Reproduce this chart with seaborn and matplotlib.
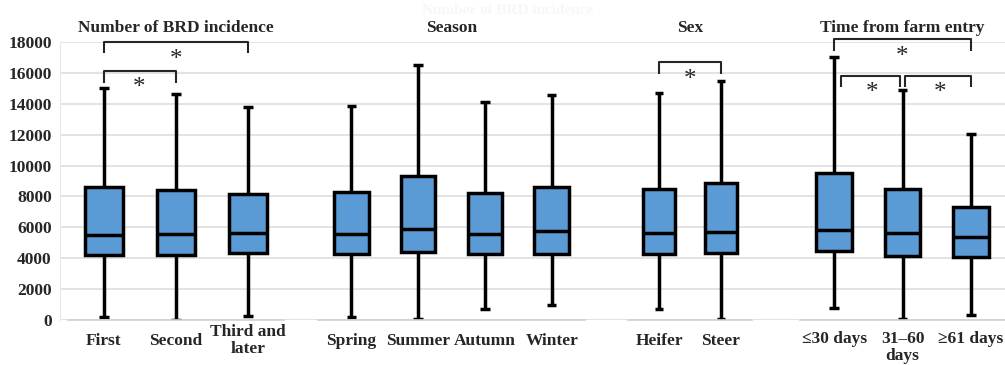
import numpy as np
import pandas as pd
import seaborn as sns
import matplotlib
matplotlib.use("Agg")
import matplotlib.pyplot as plt

# five-number summaries: min, q1, median, q3, max
brd_labels = ["First", "Second", "Third and\nlater"]
brd_stats = [[215, 4210, 5505, 8630, 15050],
             [0, 4190, 5570, 8420, 14640],
             [260, 4320, 5615, 8160, 13800]]

season_labels = ["Spring", "Summer", "Autumn", "Winter"]
season_stats = [[215, 4275, 5550, 8290, 13840],
                [40, 4425, 5870, 9325, 16540],
                [710, 4250, 5550, 8200, 14140],
                [950, 4275, 5765, 8630, 14590]]

sex_labels = ["Heifer", "Steer"]
sex_stats = [[710, 4250, 5615, 8460, 14680],
             [40, 4320, 5700, 8850, 15500]]

entry_labels = ["\u226430 days", "31\u201360\ndays", "\u226561 days"]
entry_stats = [[780, 4450, 5830, 9540, 17010],
               [65, 4145, 5615, 8500, 14900],
               [325, 4100, 5355, 7340, 12065]]

panel_titles = ["Number of BRD incidence", "Season", "Sex", "Time from farm entry"]

# significant pairs (category indices) per panel
brd_pairs = [(0, 2), (0, 1)]
sex_pairs = [(0, 1)]
entry_pairs = [(0, 2), (0, 1), (1, 2)]

sns.set_style("white")
plt.rcParams["font.family"] = ["Liberation Serif", "DejaVu Serif"]
plt.rcParams["font.weight"] = "bold"

W, H = 1005, 365
fig = plt.figure(figsize=(W / 100, H / 100), dpi=100)

y0_px, y1_px = 320, 42  # pixel rows of 0 and 18000
bottom = (H - y0_px) / H
height = (y0_px - y1_px) / H
fs = 12.5

# background axes: grid + y ticks
bg = fig.add_axes([60 / W, bottom, 1 - 60 / W, height])
bg.set_ylim(0, 18000)
bg.set_xlim(0, 1)
bg.set_yticks(np.arange(0, 18001, 2000))
bg.set_xticks([])
bg.grid(axis="y", color="#dedede", linewidth=1.2)
bg.tick_params(axis="y", length=0, pad=6, labelsize=fs)
for lab in bg.get_yticklabels():
    lab.set_fontweight("bold")
for s in ["top", "right", "bottom"]:
    bg.spines[s].set_visible(False)
bg.spines["left"].set_color("#e8e8e8")

panels = [
    (brd_labels, brd_stats, 68, 284),
    (season_labels, season_stats, 318, 585),
    (sex_labels, sex_stats, 628, 752),
    (entry_labels, entry_stats, 800, 1005),
]

box_w = 0.52
axes = []
for i, (labels, stats, xl, xr) in enumerate(panels):
    ax = fig.add_axes([xl / W, bottom, (xr - xl) / W, height])
    ax.patch.set_alpha(0)
    df = pd.DataFrame({
        "group": np.repeat(labels, 5),
        "value": np.concatenate([np.array(s, float) for s in stats]),
    })
    sns.boxplot(data=df, x="group", y="value", order=labels, ax=ax,
                whis=(0, 100), width=box_w, color="#5b9bd5", saturation=1,
                linecolor="black", linewidth=2.5, showfliers=False)
    # shorten the whisker caps
    for ln in ax.lines:
        xd, yd = np.asarray(ln.get_xdata(), float), np.asarray(ln.get_ydata(), float)
        if len(xd) == 2 and yd[0] == yd[1] and abs(xd[1] - xd[0]) < box_w * 0.75:
            c = xd.mean()
            ln.set_xdata([c - 0.07, c + 0.07])
            ln.set_solid_capstyle("butt")
    ax.set_ylim(0, 18000)
    ax.set_xlim(-0.5, len(labels) - 0.5)
    ax.set_xlabel("")
    ax.set_ylabel("")
    ax.set_yticks([])
    ax.grid(False)
    for s in ["top", "right", "left"]:
        ax.spines[s].set_visible(False)
    ax.spines["bottom"].set_color("#d0d0d0")
    ax.spines["bottom"].set_linewidth(1.2)
    if i == 3:
        ax.tick_params(axis="x", length=0, pad=8, labelsize=fs)
        for lab in ax.get_xticklabels():
            lab.set_fontweight("bold")
            lab.set_linespacing(1.1)
    else:
        ax.tick_params(axis="x", length=0, pad=15, labelsize=fs)
        for lab in ax.get_xticklabels():
            lab.set_fontweight("bold")
            lab.set_va("center")
            lab.set_linespacing(1.1)
    ax.set_title(panel_titles[i], fontsize=fs, fontweight="bold", pad=7)
    axes.append(ax)


def bracket(ax, x1, x2, ytop, yleg, xstar, ystar):
    ax.plot([x1, x1, x2, x2], [yleg, ytop, ytop, yleg], color="#262626",
            linewidth=1.5, clip_on=False, solid_capstyle="butt")
    ax.text(xstar, ystar, "*", ha="center", va="center", fontsize=18,
            fontweight="normal", color="#262626", clip_on=False)


a1, _, a3, a4 = axes
# Number of BRD incidence
bracket(a1, brd_pairs[0][0], brd_pairs[0][1], 18020, 17290, 1.0, 16850)
bracket(a1, brd_pairs[1][0], brd_pairs[1][1], 16150, 15370, 0.48, 15000)
# Sex
bracket(a3, sex_pairs[0][0], sex_pairs[0][1], 16730, 15930, 0.5, 15550)
# Time from farm entry
bracket(a4, entry_pairs[0][0], entry_pairs[0][1], 18220, 17420, 1.0, 17050)
bracket(a4, entry_pairs[1][0] + 0.1, entry_pairs[1][1] - 0.04, 15800, 15070, 0.55, 14700)
bracket(a4, entry_pairs[2][0] + 0.04, entry_pairs[2][1], 15800, 15070, 1.55, 14700)

# faint ghost title left over in the source image
fig.text(508 / W, 1 - 11 / H, "Number of BRD incidence", ha="center", va="center",
         fontsize=11, fontweight="bold", color="#f7f7f7")

fig.savefig("out.png", dpi=100)
